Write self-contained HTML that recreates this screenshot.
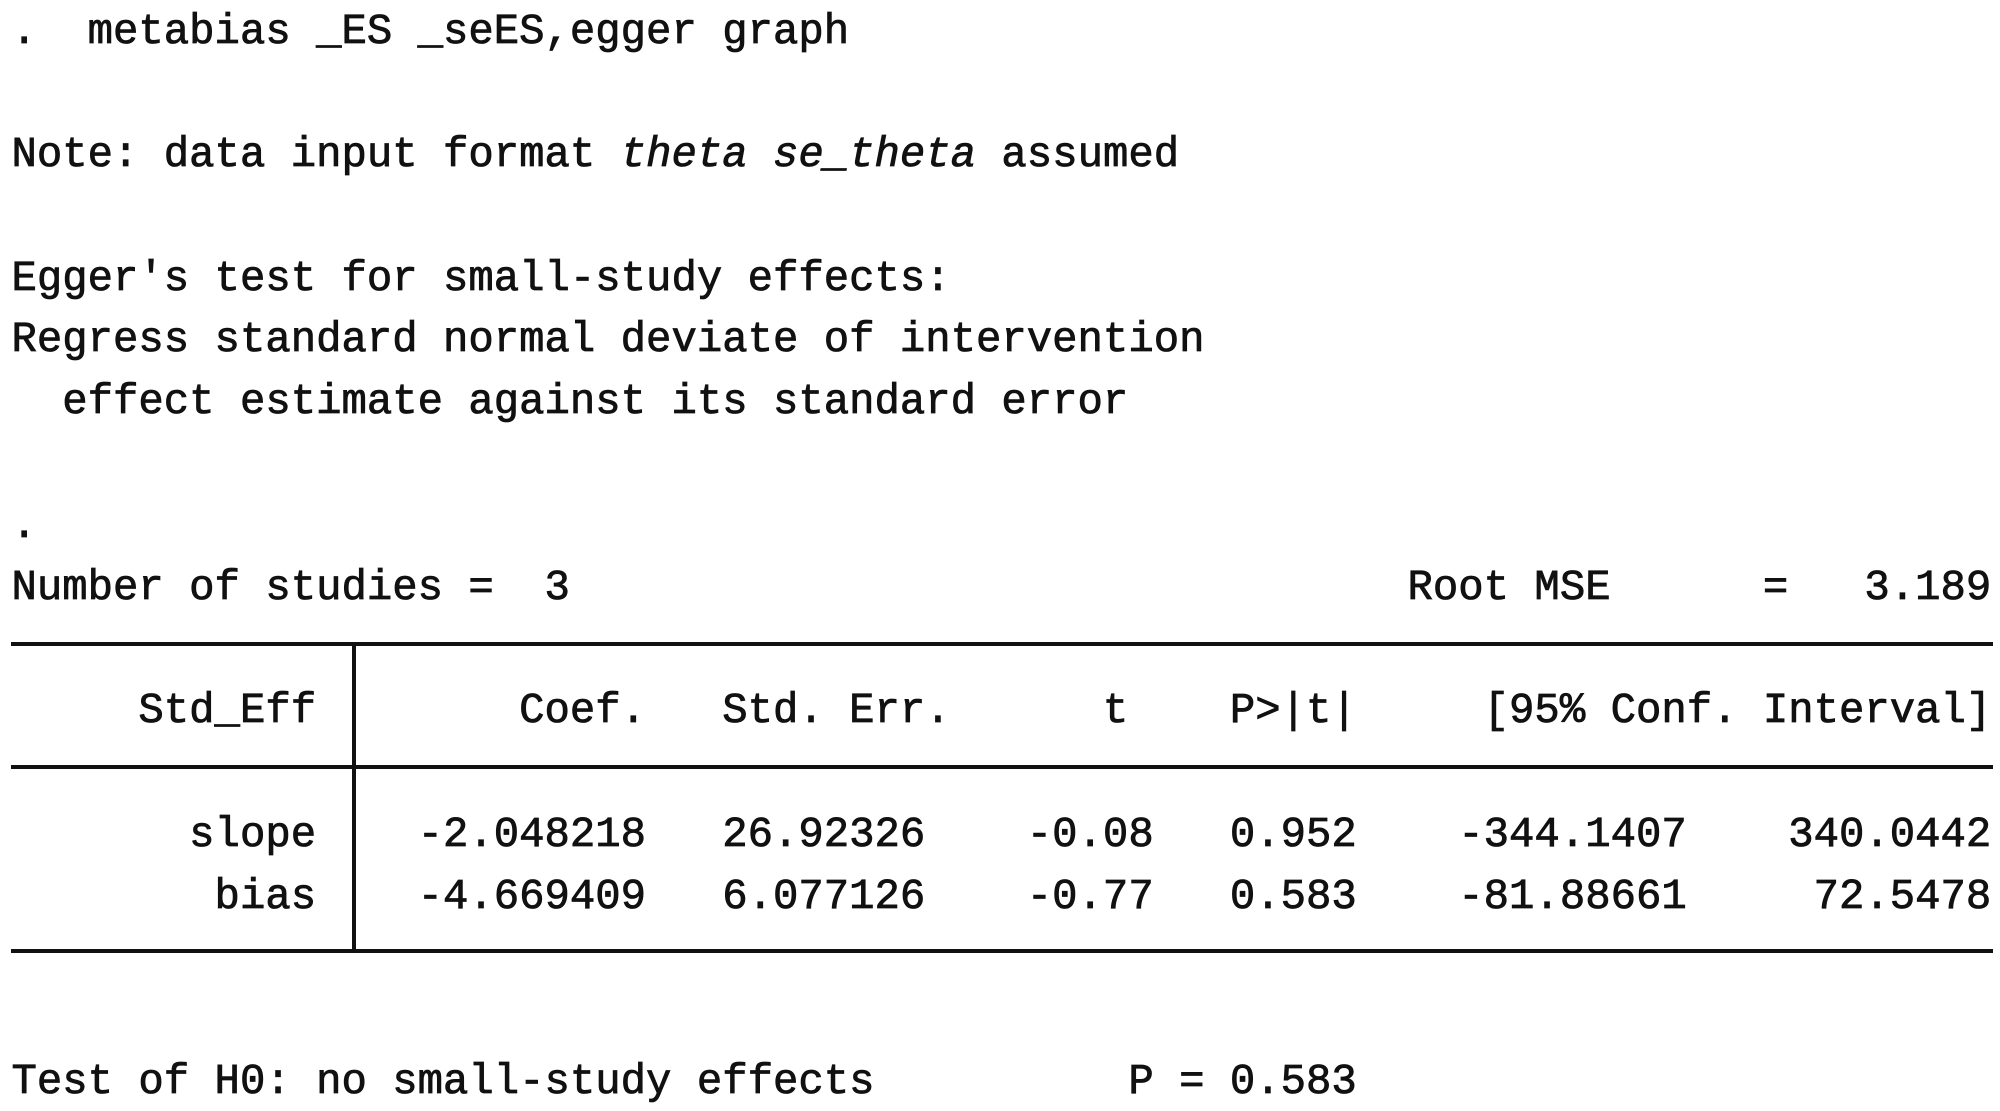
<!DOCTYPE html>
<html><head><meta charset="utf-8"><style>
html,body{margin:0;padding:0;background:#fff;width:2000px;height:1111px;overflow:hidden;position:relative}
pre{position:absolute;left:11.5px;top:1.5px;margin:0;font-family:"Liberation Mono",monospace;font-size:42.3px;line-height:61.8px;color:#111;-webkit-text-stroke:0.8px #111}
.h{position:absolute;left:11px;width:1982px;height:4px;background:#111}
.v{position:absolute;left:352px;width:4px;top:644px;height:309px;background:#111}
</style></head><body>
<pre>.  metabias _ES _seES,egger graph

Note: data input format <i>theta se_theta</i> assumed

Egger's test for small-study effects:
Regress standard normal deviate of intervention
  effect estimate against its standard error

.
Number of studies =  3                                 Root MSE      =   3.189

     Std_Eff        Coef.   Std. Err.      t    P&gt;|t|     [95% Conf. Interval]

       slope    -2.048218   26.92326    -0.08   0.952    -344.1407    340.0442
        bias    -4.669409   6.077126    -0.77   0.583    -81.88661     72.5478


Test of H0: no small-study effects          P = 0.583</pre>
<div class="h" style="top:642px"></div>
<div class="h" style="top:765px"></div>
<div class="h" style="top:949px"></div>
<div class="v"></div>
</body></html>
